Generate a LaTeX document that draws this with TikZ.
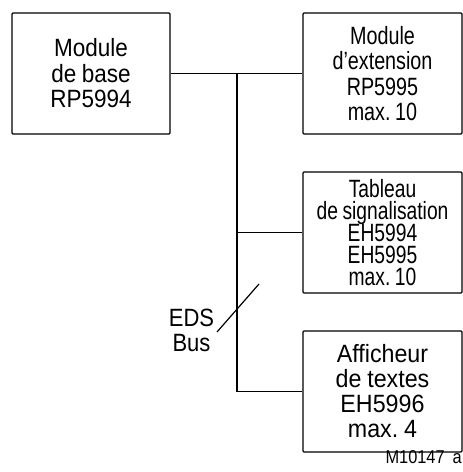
\documentclass[tikz,border=0pt]{standalone}
\usepackage{fontspec}
\setmainfont{Liberation Sans}
\newfontfamily\fA[FakeStretch=0.90,WordSpace=0.9]{Liberation Sans}
\newfontfamily\fB[FakeStretch=0.79,WordSpace=0.85]{Liberation Sans}
\newfontfamily\fC[FakeStretch=0.77,WordSpace=0.85]{Liberation Sans}
\newfontfamily\fD[FakeStretch=0.93,WordSpace=0.9]{Liberation Sans}
\newfontfamily\fE[FakeStretch=0.88,WordSpace=0.9]{Liberation Sans}
\lineskiplimit=-100pt
\frenchspacing
\tikzset{
  box/.style={draw, line width=1.3pt, rounded corners=1pt, minimum width=158pt, minimum height=121pt, inner sep=0pt, align=center},
  wire/.style={line width=1.3pt},
  lbl/.style={inner sep=0pt, align=center}
}
\begin{document}
\begin{tikzpicture}[x=1pt,y=-1pt]
\useasboundingbox (0,0) rectangle (463,472);
\node[box, font=\fA\fontsize{25}{25.5}\selectfont] (b1) at (91,73.5) {Module\\de base\\RP5994};
\node[box, minimum width=159pt, font=\fB\fontsize{25}{25.5}\selectfont] (b2) at (382.5,73.5) {Module\\d’extension\\RP5995\\max. 10};
\node[box, minimum width=159pt, font=\fC\fontsize{25}{22}\selectfont] (b3) at (382.5,232.5) {Tableau\\de signalisation\\EH5994\\EH5995\\max. 10};
\node[box, minimum width=159pt, font=\fD\fontsize{25}{25}\selectfont] (b4) at (382.5,391.5) {Afficheur\\de textes\\EH5996\\max. 4};
\coordinate (bt) at (237,73.5);
\coordinate (bb) at (237,391.5);
\coordinate (s1) at (217,332);
\coordinate (s2) at (259,284);
\draw[wire] (b1.east) -- (b2.west);
\draw[wire] (bt) -- (bb) -- (b4.west);
\draw[wire] (b3.west) -- (b3.west -| bt);
\draw[line width=1.2pt] (s1) -- (s2);
\node[lbl, font=\fE\fontsize{25}{25}\selectfont] (eds) at (191.5,330.5) {EDS\\Bus};
\node[inner sep=0pt, anchor=base east, font=\fE\fontsize{18.6}{20}\selectfont] (ref) at (462,463) {M10147\hspace{8pt}a};
\end{tikzpicture}
\end{document}
